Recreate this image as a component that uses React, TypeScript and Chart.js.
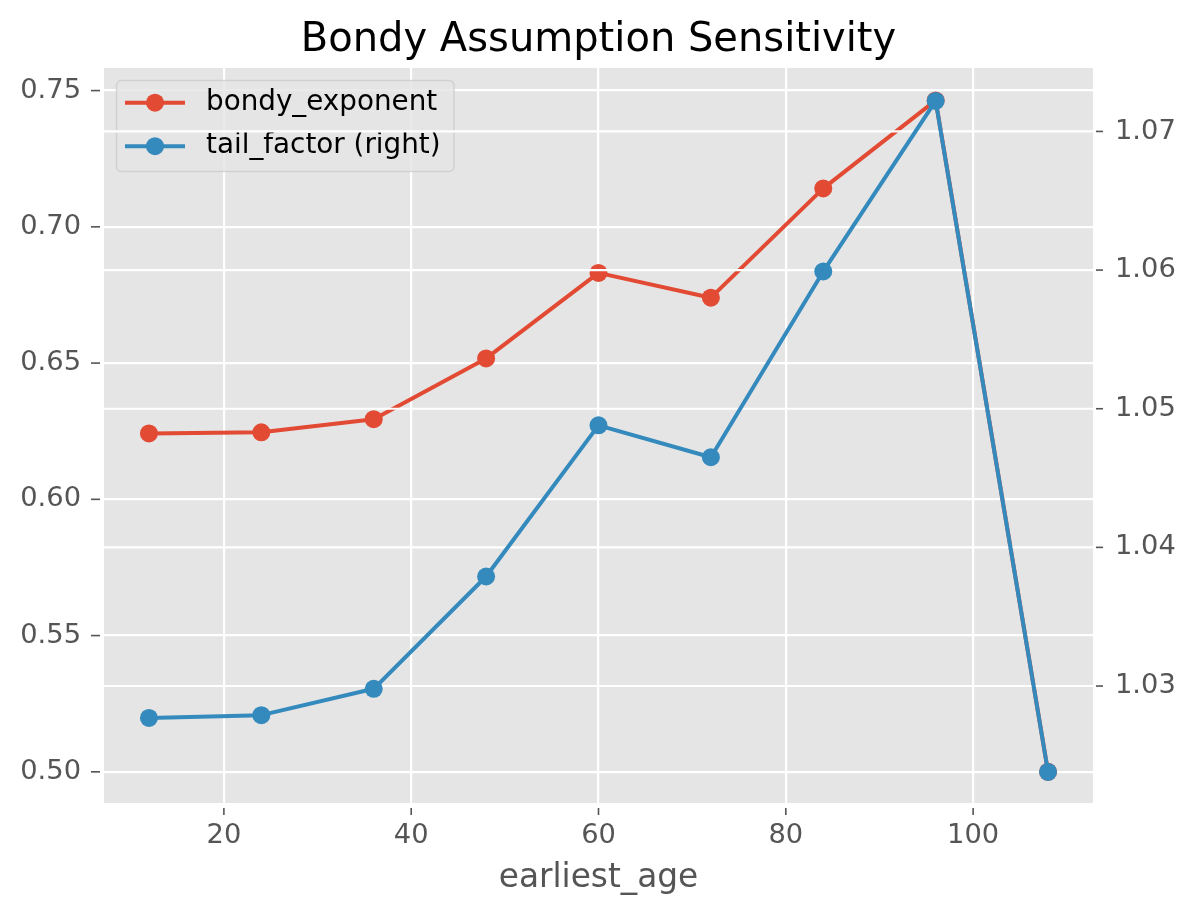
import React, { useEffect, useRef } from "react";
import { Chart, registerables } from "chart.js";

Chart.register(...registerables);

const earliestAge = [12, 24, 36, 48, 60, 72, 84, 96, 108];
const bondyExponent = [0.6242, 0.6246, 0.6294, 0.6517, 0.6831, 0.674, 0.7141, 0.7464, 0.5];
const tailFactor = [1.0277, 1.0279, 1.0298, 1.0379, 1.0488, 1.0465, 1.0599, 1.0722, 1.0238];

const xTicks = [20, 40, 60, 80, 100];
const leftTicks = [0.5, 0.55, 0.6, 0.65, 0.7, 0.75];
const rightTicks = [1.03, 1.04, 1.05, 1.06, 1.07];

const RED = "#E24A33";
const BLUE = "#348ABD";
const FONT = "DejaVu Sans";

const legendItems = [
  { label: "bondy_exponent", color: RED },
  { label: "tail_factor (right)", color: BLUE },
];

// matplotlib ggplot look: gray panel, legend under the twin axis grid, outside tick marks
const ggplotLook = {
  id: "ggplotLook",
  beforeDraw(chart: any) {
    const { ctx, chartArea: a } = chart;
    ctx.save();
    ctx.fillStyle = "#E5E5E5";
    ctx.fillRect(a.left, a.top, a.right - a.left, a.bottom - a.top);
    ctx.restore();
  },
  afterDatasetDraw(chart: any, args: any) {
    if (args.index !== 0) return;
    const { ctx, chartArea: a } = chart;
    ctx.save();

    // legend
    ctx.beginPath();
    ctx.roundRect(116.5, 80.5, 337.5, 91, 5);
    ctx.fillStyle = "rgba(229,229,229,0.8)";
    ctx.fill();
    ctx.strokeStyle = "rgba(204,204,204,0.8)";
    ctx.lineWidth = 1.5;
    ctx.stroke();
    legendItems.forEach((item, i) => {
      const y = 102.7 + i * 43.5;
      ctx.strokeStyle = item.color;
      ctx.lineWidth = 4;
      ctx.beginPath();
      ctx.moveTo(125, y);
      ctx.lineTo(185, y);
      ctx.stroke();
      ctx.fillStyle = item.color;
      ctx.beginPath();
      ctx.arc(155, y, 9, 0, Math.PI * 2);
      ctx.fill();
      ctx.fillStyle = "#000";
      ctx.font = `27.8px "${FONT}"`;
      ctx.textAlign = "left";
      ctx.textBaseline = "middle";
      ctx.fillText(item.label, 206, y);
    });

    // right axis grid, drawn over the left axis content
    const y2 = chart.scales.y2;
    ctx.strokeStyle = "#ffffff";
    ctx.lineWidth = 2.2;
    rightTicks.forEach((v) => {
      const py = y2.getPixelForValue(v);
      ctx.beginPath();
      ctx.moveTo(a.left, py);
      ctx.lineTo(a.right, py);
      ctx.stroke();
    });
    ctx.restore();
  },
  afterDraw(chart: any) {
    const { ctx, chartArea: a, scales } = chart;
    ctx.save();
    ctx.fillStyle = "#000";
    ctx.font = `40px "${FONT}"`;
    ctx.textAlign = "center";
    ctx.textBaseline = "alphabetic";
    ctx.fillText("Bondy Assumption Sensitivity", (a.left + a.right) / 2, 51);

    ctx.strokeStyle = "#555555";
    ctx.lineWidth = 1.6;
    xTicks.forEach((v) => {
      const px = scales.x.getPixelForValue(v);
      ctx.beginPath();
      ctx.moveTo(px, a.bottom + 5);
      ctx.lineTo(px, a.bottom + 12);
      ctx.stroke();
    });
    leftTicks.forEach((v) => {
      const py = scales.y.getPixelForValue(v);
      ctx.beginPath();
      ctx.moveTo(a.left - 13, py);
      ctx.lineTo(a.left - 4, py);
      ctx.stroke();
    });
    rightTicks.forEach((v) => {
      const py = scales.y2.getPixelForValue(v);
      ctx.beginPath();
      ctx.moveTo(a.right + 3, py);
      ctx.lineTo(a.right + 10, py);
      ctx.stroke();
    });
    ctx.restore();
  },
};

const tickFont = { family: FONT, size: 27.3 };

const App = () => {
  const chartRef = useRef<HTMLCanvasElement | null>(null);
  const chartInstance = useRef<Chart | null>(null);

  useEffect(() => {
    document.body.style.margin = "0";
    if (chartInstance.current) chartInstance.current.destroy();
    const ctx = chartRef.current?.getContext("2d");

    if (ctx) {
      chartInstance.current = new Chart(ctx, {
        type: "line",
        data: {
          datasets: [
            {
              label: "bondy_exponent",
              data: earliestAge.map((x, i) => ({ x, y: bondyExponent[i] })),
              yAxisID: "y",
              borderColor: RED,
              backgroundColor: RED,
              pointBackgroundColor: RED,
              pointBorderWidth: 0,
              pointRadius: 9,
              pointHoverRadius: 9,
              borderWidth: 4,
              borderJoinStyle: "round",
              order: 1,
            },
            {
              label: "tail_factor (right)",
              data: earliestAge.map((x, i) => ({ x, y: tailFactor[i] })),
              yAxisID: "y2",
              borderColor: BLUE,
              backgroundColor: BLUE,
              pointBackgroundColor: BLUE,
              pointBorderWidth: 0,
              pointRadius: 9,
              pointHoverRadius: 9,
              borderWidth: 4,
              borderJoinStyle: "round",
              order: 0,
            },
          ],
        },
        options: {
          responsive: false,
          animation: false,
          devicePixelRatio: 1,
          events: [],
          layout: { padding: { top: 68, left: 0, right: 0, bottom: 0 } },
          plugins: {
            legend: { display: false },
            title: { display: false },
            tooltip: { enabled: false },
          },
          scales: {
            x: {
              type: "linear",
              min: 7.2,
              max: 112.8,
              afterBuildTicks: (axis: any) => {
                axis.ticks = xTicks.map((value) => ({ value }));
              },
              afterFit: (axis: any) => {
                axis.height = 114;
              },
              grid: { color: "#ffffff", lineWidth: 2.2, drawTicks: false },
              border: { display: false },
              ticks: {
                color: "#555555",
                font: tickFont,
                padding: 16.5,
                maxRotation: 0,
                callback: (v: any) => String(v),
              },
              title: {
                display: true,
                text: "earliest_age",
                color: "#555555",
                font: { family: FONT, size: 32.8 },
                padding: { top: 0, bottom: 18.5 },
              },
            },
            y: {
              type: "linear",
              position: "left",
              min: 0.48856,
              max: 0.75829,
              afterBuildTicks: (axis: any) => {
                axis.ticks = leftTicks.map((value) => ({ value }));
              },
              afterFit: (axis: any) => {
                axis.width = 104;
              },
              grid: { color: "#ffffff", lineWidth: 2.2, drawTicks: false },
              border: { display: false },
              ticks: {
                color: "#555555",
                font: tickFont,
                padding: 23,
                callback: (v: any) => Number(v).toFixed(2),
              },
            },
            y2: {
              type: "linear",
              position: "right",
              min: 1.021563,
              max: 1.074575,
              afterBuildTicks: (axis: any) => {
                axis.ticks = rightTicks.map((value) => ({ value }));
              },
              afterFit: (axis: any) => {
                axis.width = 103;
              },
              grid: { display: false, drawTicks: false },
              border: { display: false },
              ticks: {
                color: "#555555",
                font: tickFont,
                padding: 22,
                callback: (v: any) => Number(v).toFixed(2),
              },
            },
          },
        },
        plugins: [ggplotLook],
      } as any);
    }

    return () => {
      if (chartInstance.current) chartInstance.current.destroy();
      chartInstance.current = null;
    };
  }, []);

  return (
    <div style={{ width: 1196, height: 917 }}>
      <canvas ref={chartRef} width={1196} height={917} style={{ display: "block" }}></canvas>
    </div>
  );
};

export default App;
